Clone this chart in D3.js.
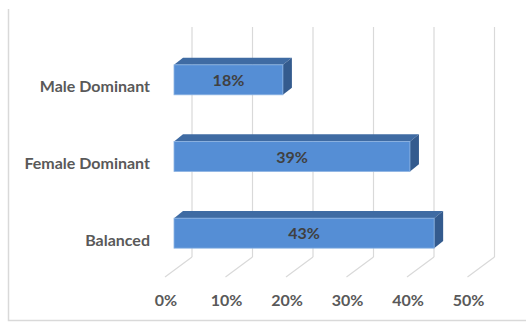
<!DOCTYPE html>
<html>
<head>
<meta charset="utf-8">
<script src="https://cdn.jsdelivr.net/npm/d3@7"></script>
<style>
  html, body { margin: 0; padding: 0; background: #fff; }
  svg { display: block; }
  text { font-family: Lato, "Open Sans", sans-serif; font-weight: bold; }
</style>
</head>
<body>
<svg id="chart" width="526" height="322"></svg>
<script>
// Share of groups by gender balance
const categories = ["Male Dominant", "Female Dominant", "Balanced"];
const values = [0.18, 0.39, 0.43];
const tickValues = [0, 0.1, 0.2, 0.3, 0.4, 0.5];

const svg = d3.select("#chart");

// Front floor edge starts at x0/yFloor; the back wall is shifted by the depth vector.
const x0 = 165, yFloor = 277, wallTop = 27;
const depth = { dx: 27, dy: -20 };
const barFront = 1 / 3, barBack = 2 / 3; // bars sit in the middle third of the depth

const x = d3.scaleLinear().domain([0, 0.5]).range([0, 302.5]);
const y = d3.scaleBand().domain(categories)
  .range([41.5, 271.5]).paddingInner(0.609).paddingOuter(0.3045);

// chart frame (left and bottom edges)
svg.append("path")
  .attr("d", "M8.5,9 V320.5 H526")
  .attr("fill", "none").attr("stroke", "#d9d9d9").attr("stroke-width", 1.5);

const grid = svg.append("g").attr("stroke", "#d9d9d9").attr("stroke-width", 1.2).attr("fill", "none");
// back wall gridlines
grid.selectAll("line.wall").data(tickValues).join("line")
  .attr("class", "wall")
  .attr("x1", d => x0 + depth.dx + x(d)).attr("x2", d => x0 + depth.dx + x(d))
  .attr("y1", wallTop).attr("y2", yFloor + depth.dy);
// floor gridlines
grid.selectAll("line.floor").data(tickValues).join("line")
  .attr("class", "floor")
  .attr("x1", d => x0 + depth.dx + x(d)).attr("y1", yFloor + depth.dy)
  .attr("x2", d => x0 + x(d)).attr("y2", yFloor);

// tick labels along the front floor edge
svg.append("g").selectAll("text").data(tickValues).join("text")
  .attr("x", d => x0 + x(d) + 1).attr("y", 306)
  .attr("text-anchor", "middle")
  .attr("font-size", 16).attr("fill", "#595959")
  .text(d3.format(".0%"));

// category labels
svg.append("g").selectAll("text").data(categories).join("text")
  .attr("x", 150).attr("y", d => y(d) + y.bandwidth() / 2 + 12.5)
  .attr("text-anchor", "end")
  .attr("font-size", 16).attr("fill", "#595959")
  .text(d => d);

// 3D bars
const fx = x0 + depth.dx * barFront;
const ox = depth.dx * (barBack - barFront), oy = depth.dy * (barBack - barFront) - 0.5;
const bars = svg.append("g").selectAll("g").data(categories.map((c, i) => ({ c, v: values[i] }))).join("g");

bars.append("path") // top face
  .attr("fill", "#3f6ba3")
  .attr("d", d => {
    const t = y(d.c), w = x(d.v);
    return `M${fx},${t} L${fx + ox},${t + oy} L${fx + w + ox},${t + oy} L${fx + w},${t} Z`;
  });
bars.append("path") // side face
  .attr("fill", "#345b8e")
  .attr("d", d => {
    const t = y(d.c), b = t + y.bandwidth(), w = x(d.v);
    return `M${fx + w},${t} L${fx + w + ox},${t + oy} L${fx + w + ox},${b + oy} L${fx + w},${b} Z`;
  });
bars.append("rect") // front face
  .attr("x", fx).attr("y", d => y(d.c))
  .attr("width", d => x(d.v)).attr("height", y.bandwidth())
  .attr("fill", "#558ed5").attr("stroke", "#8db4e3").attr("stroke-width", 0.8);

bars.append("text")
  .attr("x", d => fx + x(d.v) / 2).attr("y", d => y(d.c) + y.bandwidth() / 2 + 6)
  .attr("text-anchor", "middle")
  .attr("font-size", 16).attr("fill", "#404040")
  .text(d => d3.format(".0%")(d.v));
</script>
</body>
</html>
